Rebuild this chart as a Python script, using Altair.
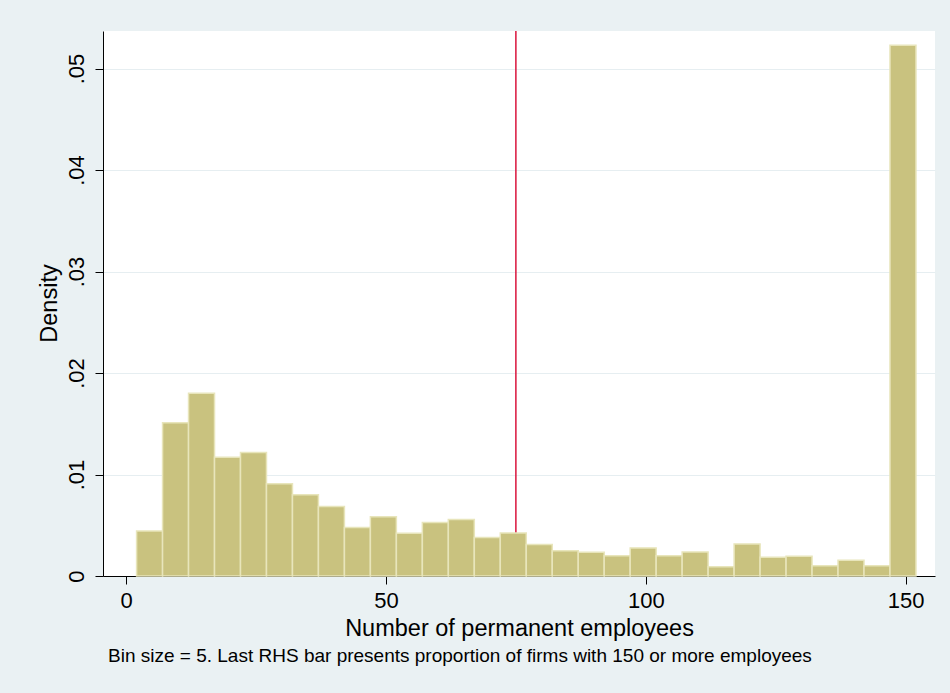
import altair as alt
import pandas as pd

# Histogram bins (number of permanent employees), bin size = 5
bin_start = [2, 7, 12, 17, 22, 27, 32, 37, 42, 47, 52, 57, 62, 67, 72,
             77, 82, 87, 92, 97, 102, 107, 112, 117, 122, 127, 132, 137, 142, 147]
bin_end = [7, 12, 17, 22, 27, 32, 37, 42, 47, 52, 57, 62, 67, 72, 77,
           82, 87, 92, 97, 102, 107, 112, 117, 122, 127, 132, 137, 142, 147, 152]
density = [0.00443, 0.0151, 0.0180, 0.0117, 0.01216, 0.0091, 0.0080, 0.00684,
           0.00477, 0.00585, 0.0042, 0.00526, 0.00556, 0.0038, 0.00424,
           0.0031, 0.0025, 0.00235, 0.0020, 0.00277, 0.0020, 0.00237, 0.00092,
           0.00316, 0.00184, 0.00194, 0.00102, 0.00155, 0.00102, 0.0523]
cutoff = [75]
x_ticks = [0, 50, 100, 150]
y_ticks = [0, 0.01, 0.02, 0.03, 0.04, 0.05]

note = "Bin size = 5. Last RHS bar presents proportion of firms with 150 or more employees"

df = pd.DataFrame({"start": bin_start, "end": bin_end, "density": density})
cut_df = pd.DataFrame({"x": cutoff})

FONT = "Liberation Sans"

x_scale = alt.Scale(domain=[-3.5, 154.7], nice=False, zero=False)
y_scale = alt.Scale(domain=[0, 0.0537], nice=False, zero=True)

x_axis = alt.Axis(
    values=x_ticks, title="Number of permanent employees", grid=False,
    tickSize=8, tickColor="#000000", domainColor="#000000", domainWidth=1,
    labelFontSize=22, labelFont=FONT, labelColor="#000000",
    labelBaseline="alphabetic", labelPadding=23,
    titleFontSize=23.5, titleFont=FONT, titleFontWeight="normal", titleColor="#000000",
    titleBaseline="alphabetic", titleY=59, titleX=416,
)
y_axis = alt.Axis(
    values=y_ticks, title="Density", grid=True, gridColor="#E6EEF1", gridWidth=1,
    tickSize=8, tickColor="#000000", domainColor="#000000", domainWidth=1,
    labelFontSize=22, labelFont=FONT, labelColor="#000000",
    labelAngle=270, labelAlign="center", labelBaseline="alphabetic", labelPadding=12,
    labelExpr="datum.value == 0 ? '0' : replace(format(datum.value, '.2f'), '0.', '.')",
    titleFontSize=23.5, titleFont=FONT, titleFontWeight="normal", titleColor="#000000",
    titleAngle=270, titleAlign="center", titleBaseline="alphabetic", titleX=-47, titleY=272,
)

rule = alt.Chart(cut_df).mark_rule(color="#D9143C", strokeWidth=1.5).encode(
    x=alt.X("x:Q", scale=x_scale, axis=x_axis),
)

bars = alt.Chart(df).mark_bar(
    fill="#C9C27F", stroke="#E8E5BB", strokeWidth=1.5, opacity=1, orient="vertical"
).encode(
    x=alt.X("start:Q", scale=x_scale, axis=x_axis),
    x2="end:Q",
    y=alt.Y("density:Q", scale=y_scale, axis=y_axis),
    y2=alt.datum(0),
)

chart = alt.layer(rule, bars).properties(
    width=832,
    height=545,
    autosize=alt.AutoSizeParams(type="none"),
    padding={"left": 103, "top": 31, "right": 15, "bottom": 117},
    background="#EAF1F3",
    title=alt.TitleParams(
        text=note, orient="bottom", anchor="start", frame="group",
        fontSize=19, font=FONT, fontWeight="normal", color="#000000",
        baseline="alphabetic", offset=22, dx=5,
    ),
).configure_view(stroke=None, fill="#FFFFFF")

chart.save("out.html", embed_options={"renderer": "svg", "actions": False})
